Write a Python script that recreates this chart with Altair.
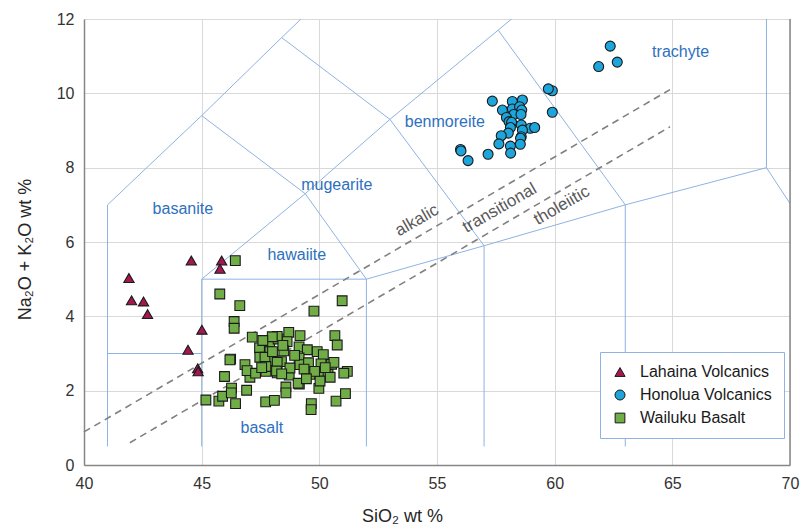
import altair as alt
import pandas as pd

# ---- TAS field boundaries (SiO2, Na2O+K2O) ----
seg_x1 = [41, 41, 45, 45, 52, 45, 49.4, 49.4, 52, 57, 57, 57, 63, 63, 53, 57.6, 41, 45, 45, 48.4, 48.4, 63, 69, 69]
seg_y1 = [0.5, 3, 0.5, 5, 0.5, 5, 7.3, 7.3, 5, 0.5, 5.9, 5.9, 0.5, 7, 9.3, 11.7, 7, 9.4, 9.4, 11.5, 11.5, 7, 8, 8]
seg_x2 = [41, 45, 45, 52, 52, 49.4, 52, 53, 57, 57, 53, 63, 63, 57.6, 57.6, 61, 45, 49.4, 48.4, 53, 52.5, 69, 69, 77.3]
seg_y2 = [7, 3, 5, 5, 5, 7.3, 5, 9.3, 5.9, 5.9, 9.3, 7, 7, 11.7, 11.7, 13.5, 9.4, 7.3, 11.5, 9.3, 14, 8, 13, 0]

# ---- alkalic / tholeiitic dividing lines ----
dash_x1 = [40, 41.95]
dash_y1 = [0.89, 0.60]
dash_x2 = [64.9, 64.9]
dash_y2 = [10.1, 9.1]

# ---- field labels ----
field_names = ["basanite", "hawaiite", "mugearite", "benmoreite", "trachyte", "basalt"]
field_x = [44.2, 49.04, 50.74, 55.33, 65.35, 47.56]
field_y = [6.89, 5.66, 7.54, 9.23, 11.11, 1.0]

series_lbl = ["alkalic", "transitional", "tholeiitic"]
series_lbl_x = [54.15, 57.66, 60.3]
series_lbl_y = [6.58, 6.91, 6.98]

# ---- samples ----
lahaina_x = [41.91, 42.02, 42.53, 42.70, 44.56, 45.85, 45.78, 45.01, 44.42, 44.83, 44.85]
lahaina_y = [5.03, 4.43, 4.40, 4.06, 5.50, 5.50, 5.28, 3.64, 3.10, 2.60, 2.52]

honolua_x = [57.35, 58.20, 58.63, 57.78, 58.20, 58.51, 58.60, 58.26, 58.57, 57.95, 58.06, 58.17,
             58.58, 58.12, 58.03, 58.96, 59.15, 58.63, 58.58, 57.73, 57.63, 58.55, 58.54, 58.12,
             58.13, 57.17, 56.00, 56.02, 56.32, 59.90, 59.73, 59.90, 62.36, 61.87, 62.66]
honolua_y = [9.79, 9.78, 9.82, 9.55, 9.58, 9.64, 9.55, 9.43, 9.43, 9.35, 9.24, 9.22,
             9.15, 9.08, 8.93, 9.06, 9.08, 9.01, 8.83, 8.86, 8.64, 8.79, 8.63, 8.58,
             8.39, 8.36, 8.49, 8.45, 8.19, 10.07, 10.12, 9.49, 11.27, 10.72, 10.84]

wailuku_x = [46.43, 45.77, 46.62, 46.38, 46.38, 50.97, 49.77, 47.15, 46.23, 45.97, 45.18, 45.73,
             45.89, 46.27, 46.26, 46.44, 46.91, 47.72, 48.09, 49.66, 49.65, 50.71, 51.11, 48.58,
             48.58, 49.15, 49.98, 50.66, 50.76, 51.19, 51.04, 46.84, 47.05, 46.93, 47.29, 47.73,
             48.21, 48.72, 47.46, 47.47, 47.89, 48.25, 48.70, 48.63, 49.18, 49.14, 49.49, 49.91,
             50.17, 47.90, 48.49, 47.91, 48.39, 49.14, 49.17, 49.54, 50.07, 50.52, 50.62, 49.60,
             50.06, 50.37, 50.46, 50.03, 49.10, 47.69, 48.21, 48.75, 47.73, 48.18, 48.21, 48.01,
             46.20, 48.00, 48.45, 49.35, 49.80, 48.95, 47.55, 49.45, 50.25, 48.40, 47.60]
wailuku_y = [5.50, 4.60, 4.29, 3.86, 3.68, 4.42, 4.14, 3.44, 2.85, 2.38, 1.75, 1.72,
             1.85, 2.07, 1.94, 1.65, 2.01, 1.70, 1.74, 1.65, 1.49, 1.72, 1.92, 2.10,
             1.94, 2.18, 2.06, 3.48, 3.23, 2.52, 2.47, 2.70, 2.36, 2.54, 2.47, 2.52,
             2.48, 2.42, 3.15, 2.90, 3.31, 3.39, 3.57, 3.32, 3.48, 3.18, 3.10, 3.05,
             2.97, 3.05, 3.07, 2.81, 2.78, 2.88, 2.70, 2.75, 2.72, 2.71, 2.76, 2.44,
             2.46, 2.44, 2.36, 2.26, 2.20, 2.90, 2.76, 2.61, 2.65, 2.53, 3.46, 3.05,
             2.83, 3.45, 3.22, 2.58, 2.52, 2.95, 2.62, 2.32, 2.62, 2.45, 3.35]

series_names = ["Lahaina Volcanics", "Honolua Volcanics", "Wailuku Basalt"]
series_fill = ["#a3184f", "#1da5dc", "#70ad47"]
series_shape = ["triangle-up", "circle", "square"]
series_size = [105, 95, 120]

FONT = "Liberation Sans"

xscale = alt.Scale(domain=[40, 70], nice=False, zero=False)
yscale = alt.Scale(domain=[0, 12], nice=False, zero=False)
xaxis = alt.Axis(values=[40, 45, 50, 55, 60, 65, 70], title="SiO₂ wt %", labelFlush=False,
                 titlePadding=16, titleX=318)
yaxis = alt.Axis(values=[0, 2, 4, 6, 8, 10, 12], title="Na₂O + K₂O wt %", labelFlush=False,
                 titlePadding=22, titleY=230)

bounds = pd.DataFrame({"x": seg_x1, "y": seg_y1, "x2": seg_x2, "y2": seg_y2})
boundary = alt.Chart(bounds).mark_rule(color="#8db3e2", strokeWidth=1, clip=True).encode(
    x=alt.X("x:Q", scale=xscale, axis=xaxis),
    y=alt.Y("y:Q", scale=yscale, axis=yaxis),
    x2="x2:Q", y2="y2:Q")

dashes = pd.DataFrame({"x": dash_x1, "y": dash_y1, "x2": dash_x2, "y2": dash_y2})
dash_layer = alt.Chart(dashes).mark_rule(color="#808080", strokeWidth=1.6, strokeDash=[7, 5]).encode(
    x="x:Q", y="y:Q", x2="x2:Q", y2="y2:Q")

frame = alt.Chart(pd.DataFrame({"x": [70]})).mark_rule(color="#868686", strokeWidth=1.5).encode(
    x="x:Q")

fields = pd.DataFrame({"name": field_names, "x": field_x, "y": field_y})
field_text = alt.Chart(fields).mark_text(font=FONT, fontSize=16, color="#2e70c0").encode(
    x="x:Q", y="y:Q", text="name:N")

sl = pd.DataFrame({"name": series_lbl, "x": series_lbl_x, "y": series_lbl_y})
sl_text = alt.Chart(sl).mark_text(font=FONT, fontSize=17, color="#595959", angle=330).encode(
    x="x:Q", y="y:Q", text="name:N")

rows = []
for name, xs, ys in [(series_names[0], lahaina_x, lahaina_y),
                     (series_names[1], honolua_x, honolua_y),
                     (series_names[2], wailuku_x, wailuku_y)]:
    for a, b in zip(xs, ys):
        rows.append({"x": a, "y": b, "series": name})
pts = pd.DataFrame(rows)

points = alt.Chart(pts).mark_point(filled=True, opacity=1, stroke="#1a1a1a", strokeWidth=1.1).encode(
    x="x:Q", y="y:Q",
    color=alt.Color("series:N", scale=alt.Scale(domain=series_names, range=series_fill),
                    legend=alt.Legend(title=None, orient="none", legendX=516, legendY=333,
                                      strokeColor="#8db3e2", fillColor="white", padding=12,
                                      labelFontSize=16, labelFont=FONT, labelColor="#1a1a1a",
                                      symbolSize=55, rowPadding=7, labelOffset=12,
                                      symbolStrokeColor="#1a1a1a", symbolStrokeWidth=1,
                                      symbolOpacity=1)),
    shape=alt.Shape("series:N", scale=alt.Scale(domain=series_names, range=series_shape)),
    size=alt.Size("series:N", scale=alt.Scale(domain=series_names, range=series_size), legend=None),
    order=alt.Order("series:N", sort="ascending"))

chart = alt.layer(boundary, dash_layer, frame, field_text, sl_text, points).properties(
    width=706, height=446,
    autosize=alt.AutoSizeParams(type="none"),
    padding={"left": 84, "top": 19, "right": 11, "bottom": 66},
    background="white",
).configure_axis(
    gridColor="#d9d9d9", gridWidth=1, domainColor="#868686", domainWidth=1.5,
    ticks=False, labelFont=FONT, labelFontSize=16, labelColor="#333333", labelPadding=10,
    titleFont=FONT, titleFontSize=18, titleFontWeight="normal", titleColor="#262626",
).configure_view(stroke=None)

chart.save("out.html", embed_options={"renderer": "svg", "actions": False})
